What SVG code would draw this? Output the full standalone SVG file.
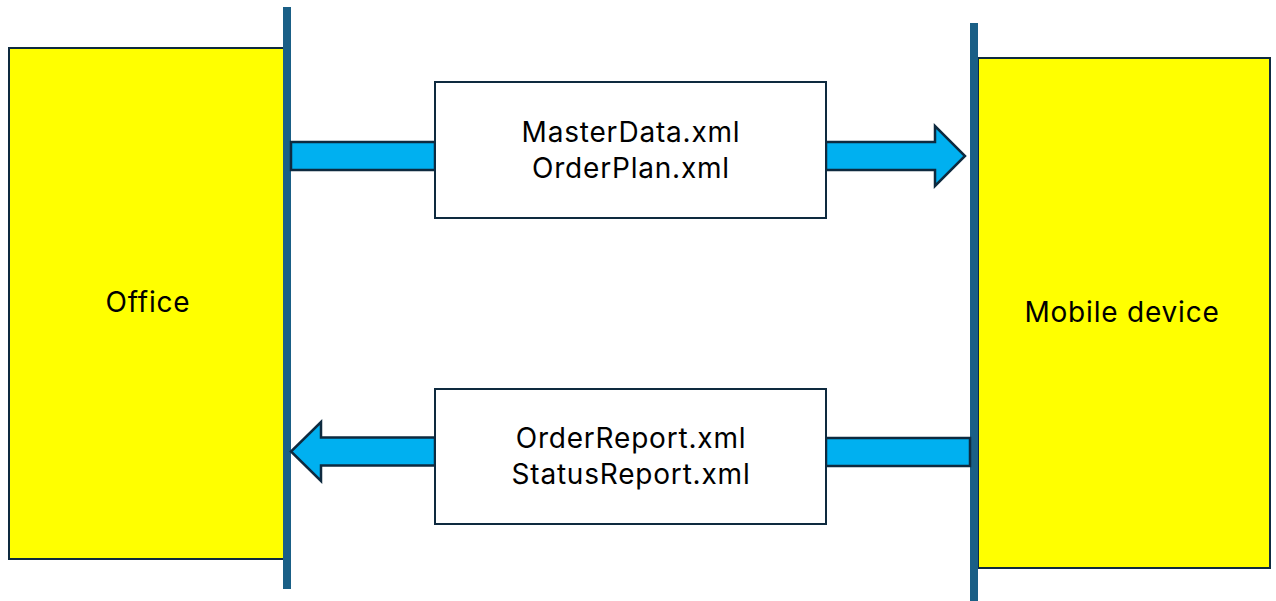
<svg xmlns="http://www.w3.org/2000/svg" width="1276" height="601" viewBox="0 0 1276 601">
<style>
.dev{fill:#ffff00;stroke:#0e2a3f;stroke-width:2}
.box{fill:#ffffff;stroke:#0e2a3f;stroke-width:2}
.bar{fill:#1a5f86}
.arr{fill:#00b0f0;stroke:#0e2a3f;stroke-width:2.5;stroke-linejoin:miter}
text{font-family:Inter,"Open Sans","Liberation Sans",sans-serif;font-size:28px;letter-spacing:0.8px;fill:#000;text-anchor:middle}
</style>
<rect width="1276" height="601" fill="#ffffff"/>
<g id="office">
<rect class="dev" x="9" y="48" width="275" height="511"/>
<text x="148" y="312">Office</text>
</g>
<g id="mobile">
<rect class="dev" x="978" y="58" width="292" height="510"/>
<text x="1122" y="322">Mobile device</text>
</g>
<g id="office-bar"><rect class="bar" x="283" y="7" width="8" height="582"/></g>
<g id="mobile-bar"><rect class="bar" x="970" y="23" width="8" height="578"/></g>
<g id="connectors">
<rect class="arr" x="291" y="142" width="144" height="28"/>
<path class="arr" d="M826 142 H935 V126 L965 156 L935 186 V170 H826 Z"/>
<path class="arr" d="M435 437.5 H321 V422 L291 451.5 L321 481 V465.5 H435 Z"/>
<rect class="arr" x="826" y="438" width="144" height="28"/>
</g>
<g id="out-files">
<rect class="box" x="435" y="82" width="391" height="136"/>
<text x="631" y="141.5">MasterData.xml</text>
<text x="631" y="177.5">OrderPlan.xml</text>
</g>
<g id="in-files">
<rect class="box" x="435" y="389" width="391" height="135"/>
<text x="631" y="448">OrderReport.xml</text>
<text x="631" y="484">StatusReport.xml</text>
</g>
</svg>
